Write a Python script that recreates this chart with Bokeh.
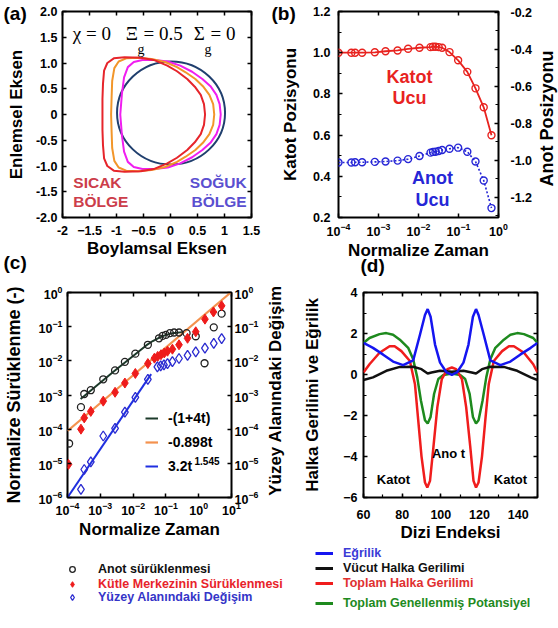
import math
from bokeh.plotting import figure
from bokeh.models import (Range1d, LinearAxis, LogAxis, Label, Legend, LegendItem,
                          FixedTicker, SingleIntervalTicker, PrintfTickFormatter)
from bokeh.layouts import row, column
from bokeh.embed import file_html
from bokeh.resources import INLINE

SANS = "Liberation Sans"
SERIF = "Liberation Serif"
TICK_FS = "12.5px"
AXIS_FS = "17px"
NAN = float("nan")

# ---------------- (a) drop outlines ----------------
red_x = [0.64, 0.62, 0.56, 0.45, 0.31, 0.12, -0.06, -0.31, -0.55, -0.85, -1.05, -1.17, -1.23, -1.25, -1.26, -1.26,
         -1.26, -1.25, -1.23, -1.17, -1.05, -0.85, -0.55, -0.31, -0.06, 0.12, 0.31, 0.45, 0.56, 0.62, 0.64]
red_y = [0.00, 0.20, 0.38, 0.54, 0.69, 0.84, 0.95, 1.06, 1.10, 1.11, 1.09, 1.00, 0.85, 0.60, 0.30, 0.00,
         -0.30, -0.60, -0.85, -1.00, -1.09, -1.11, -1.10, -1.06, -0.95, -0.84, -0.69, -0.54, -0.38, -0.20, 0.00]
orange_x = [0.81, 0.79, 0.72, 0.60, 0.46, 0.28, 0.12, -0.10, -0.35, -0.60, -0.82, -0.96, -1.04, -1.08, -1.09, -1.10,
            -1.09, -1.08, -1.04, -0.96, -0.82, -0.60, -0.35, -0.10, 0.12, 0.28, 0.46, 0.60, 0.72, 0.79, 0.81]
orange_y = [0.00, 0.20, 0.38, 0.55, 0.69, 0.82, 0.92, 1.02, 1.08, 1.10, 1.09, 1.03, 0.90, 0.65, 0.35, 0.00,
            -0.35, -0.65, -0.90, -1.03, -1.09, -1.10, -1.08, -1.02, -0.92, -0.82, -0.69, -0.55, -0.38, -0.20, 0.00]
magenta_x = [0.93, 0.91, 0.85, 0.74, 0.59, 0.40, 0.18, -0.05, -0.30, -0.52, -0.68, -0.79, -0.86, -0.90, -0.93,
             -0.90, -0.86, -0.79, -0.68, -0.52, -0.30, -0.05, 0.18, 0.40, 0.59, 0.74, 0.85, 0.91, 0.93]
magenta_y = [0.00, 0.20, 0.38, 0.55, 0.69, 0.83, 0.95, 1.03, 1.06, 1.06, 1.02, 0.92, 0.72, 0.40, 0.00,
             -0.40, -0.72, -0.92, -1.02, -1.06, -1.06, -1.03, -0.95, -0.83, -0.69, -0.55, -0.38, -0.20, 0.00]
# cold (initial) outline: a circle
circle_cx = [0.01]
circle_cy = [0.03]
circle_w = [2.0]
circle_h = [2.0]
a_xticks = [-2, -1.5, -1, -0.5, 0, 0.5, 1, 1.5]
a_yticks = [-2, -1.5, -1, -0.5, 0, 0.5, 1, 1.5, 2]

# ---------------- (b) tip positions ----------------
t_tip = [1.0e-4, 2.1e-4, 2.6e-4, 3.9e-4, 8.1e-4, 1.5e-3, 3.0e-3, 5.5e-3, 1.06e-2, 2.0e-2,
         2.3e-2, 2.66e-2, 3.2e-2, 3.9e-2, 5.96e-2, 9.8e-2, 0.166, 0.266, 0.427, 0.668]
cathode_pos = [1.000, 1.000, 1.000, 1.000, 1.002, 1.007, 1.011, 1.019, 1.024, 1.027,
               1.029, 1.029, 1.027, 1.024, 1.003, 0.963, 0.907, 0.827, 0.735, 0.599]
anode_pos = [-1.012, -1.012, -1.011, -1.011, -1.009, -1.007, -1.002, -0.994, -0.977, -0.959,
             -0.955, -0.954, -0.950, -0.945, -0.938, -0.932, -0.954, -1.007, -1.110, -1.259]
decades_b = [1e-4, 1e-3, 1e-2, 1e-1, 1.0]
b_left_ticks = [0.2, 0.4, 0.6, 0.8, 1.0, 1.2]
b_left_minor = [0.3, 0.5, 0.7, 0.9, 1.1]
b_right_ticks = [-1.2, -1.0, -0.8, -0.6, -0.4, -0.2]
b_right_minor = [-1.3, -1.1, -0.9, -0.7, -0.5, -0.3]

# ---------------- (c) drift and area change ----------------
t_anode = [1.12e-4, 2.57e-4, 3.24e-4, 5.13e-4, 1.23e-3, 2.82e-3, 5.62e-3, 1.17e-2, 2.82e-2, 6.17e-2,
           7.94e-2, 1.0e-1, 1.32e-1, 1.78e-1, 2.51e-1, 4.27e-1, 8.13e-1, 1.51, 2.88, 5.01]
anode_drift = [3.8e-5, 4.4e-4, 1.07e-3, 1.38e-3, 2.88e-3, 5.25e-3, 9.33e-3, 1.62e-2, 2.95e-2, 4.57e-2,
               5.37e-2, 5.75e-2, 6.46e-2, 6.76e-2, 6.76e-2, 6.46e-2, 5.25e-2, 8.5e-3, 9.55e-2, 2.4e-1]
t_com = [1.07e-4, 2.57e-4, 3.24e-4, 5.13e-4, 1.23e-3, 2.82e-3, 5.62e-3, 1.17e-2, 2.82e-2, 4.47e-2,
         5.62e-2, 7.08e-2, 8.91e-2, 1.12e-1, 1.58e-1, 2.51e-1, 4.57e-1, 8.13e-1, 1.55, 2.82, 5.01]
com_drift = [9.3e-6, 1.0e-4, 2.14e-4, 3.31e-4, 6.61e-4, 1.2e-3, 2.24e-3, 4.27e-3, 8.32e-3, 1.2e-2,
             1.35e-2, 1.51e-2, 1.7e-2, 1.91e-2, 2.19e-2, 2.95e-2, 4.57e-2, 7.08e-2, 1.66e-1, 2.69e-1, 4.07e-1]
t_area = [2.57e-4, 3.24e-4, 5.13e-4, 1.23e-3, 2.82e-3, 5.62e-3, 1.17e-2, 2.82e-2, 5.5e-2, 6.92e-2,
          8.71e-2, 1.12e-1, 1.58e-1, 2.51e-1, 4.57e-1, 8.13e-1, 1.55, 2.88, 5.01]
area_change = [1.74e-6, 6.6e-6, 1.1e-5, 6.31e-5, 1.05e-4, 3.16e-4, 8.51e-4, 2.88e-3, 6.61e-3, 7.08e-3,
               7.59e-3, 8.32e-3, 9.55e-3, 1.17e-2, 1.45e-2, 1.82e-2, 2.34e-2, 3.24e-2, 4.47e-2]
fit_anode_t = [2.51e-4, 2.51e-3, 2.51e-2, 3.98e-2, 6.31e-2, 1.0e-1, 1.58e-1, 3.16e-1]
fit_anode_y = [7.59e-4, 4.79e-3, 2.82e-2, 3.8e-2, 4.79e-2, 5.75e-2, 6.46e-2, 6.92e-2]
fit_com_t = [1.0e-4, 9.5]
fit_com_y = [8.9e-5, 1.0]
fit_area_t = [1.0e-4, 3.55e-2]
fit_area_y = [1.0e-6, 4.07e-3]
decades_cx = [1e-4, 1e-3, 1e-2, 1e-1, 1.0, 10.0]
decades_cy = [1e-6, 1e-5, 1e-4, 1e-3, 1e-2, 1e-1, 1.0]

# ---------------- (d) hoop stress and curvature along the contour ----------------
idx_curv = [60, 64.9, 70, 75.3, 80.5, 85.7, 89.2, 91.8, 93.2, 94.7, 97, 99.6, 103, 105.7, 108.3,
            111.7, 114.3, 116.6, 118.2, 119.5, 122.2, 125.6, 130.8, 136, 141.2, 146.5, 150]
curvature = [1.54, 1.30, 0.98, 0.63, 0.46, 0.69, 1.94, 2.90, 3.19, 2.82, 1.46, 0.58, 0.10, -0.02, 0.10,
             0.58, 1.46, 2.82, 3.19, 2.90, 1.94, 0.69, 0.46, 0.63, 0.98, 1.30, 1.54]
idx_total = [60, 63.1, 68.3, 73.5, 76.1, 79.6, 84, 86.6, 88.3, 90, 91.8, 93, 94.4, 96.2, 98.2, 100.5,
             103.4, 105.7, 107.9, 110.9, 113.1, 115.2, 116.9, 118.2, 119.5, 121.3, 123, 124.8, 127.4,
             131.7, 135.2, 137.8, 143, 147.8, 150]
total_hoop = [0.10, 0.50, 1.06, 1.38, 1.38, 1.14, 0.66, -0.46, -2.23, -3.99, -5.27, -5.51, -5.19, -3.51,
              -1.59, -0.22, 0.26, 0.34, 0.26, -0.22, -1.59, -3.51, -5.19, -5.51, -5.27, -3.99, -2.23,
              -0.46, 0.66, 1.14, 1.38, 1.38, 1.06, 0.50, 0.10]
idx_pot = [60, 63.1, 68.3, 71.8, 75.3, 78.8, 83.1, 85.7, 87.8, 89.7, 91.8, 93.2, 94.7, 96.5, 98.7,
           101.3, 105.7, 110, 112.6, 114.9, 116.6, 118.2, 119.5, 121.6, 123.5, 125.6, 128.2, 132.6,
           136, 139.5, 143, 147.8, 150]
potential = [1.54, 1.78, 1.97, 2.02, 1.94, 1.70, 1.30, 0.74, -0.14, -1.27, -2.23, -2.39, -2.07, -0.95,
             -0.22, -0.02, 0.05, -0.02, -0.22, -0.95, -2.07, -2.39, -2.23, -1.27, -0.14, 0.74, 1.30,
             1.70, 1.94, 2.02, 1.97, 1.78, 1.54]
idx_body = [60, 64.9, 71.8, 78.8, 85.7, 90, 93.2, 95.2, 99.6, 105.7, 111.7, 116, 118.2, 121.3, 125.6,
            132.6, 139.5, 146.5, 150]
body_hoop = [-0.27, -0.14, 0.18, 0.37, 0.38, 0.26, 0.05, 0.10, 0.18, 0.14, 0.18, 0.10, 0.05, 0.26,
             0.38, 0.37, 0.18, -0.14, -0.27]

PAGE_W, PAGE_H = 558, 628


def base_fig(width, height, x_range, y_range, borders, x_log=False, y_log=False):
    left, right, top, bottom = borders
    p = figure(width=width, height=height, x_range=x_range, y_range=y_range,
               x_axis_type="log" if x_log else "linear",
               y_axis_type="log" if y_log else "linear",
               output_backend="svg", toolbar_location=None,
               min_border_left=left, min_border_right=right,
               min_border_top=top, min_border_bottom=bottom)
    p.xgrid.visible = False
    p.ygrid.visible = False
    p.outline_line_color = "black"
    p.outline_line_width = 2
    p.background_fill_color = "white"
    p.border_fill_color = "white"
    return p


def style_axis(ax, standoff, label_standoff, label_size=AXIS_FS):
    ax.axis_line_color = None
    ax.major_tick_in = 4
    ax.major_tick_out = 0
    ax.minor_tick_in = 3
    ax.minor_tick_out = 0
    ax.major_tick_line_width = 1.5
    ax.minor_tick_line_width = 1.2
    ax.major_label_text_font = SANS
    ax.major_label_text_font_style = "bold"
    ax.major_label_text_font_size = TICK_FS
    ax.major_label_text_color = "black"
    ax.axis_label_text_font = SANS
    ax.axis_label_text_font_style = "bold"
    ax.axis_label_text_font_size = label_size
    ax.axis_label_text_color = "black"
    ax.major_label_standoff = standoff
    ax.axis_label_standoff = label_standoff


def frame_ticks(p, side, ticker, log=False, **kw):
    cls = LogAxis if log else LinearAxis
    ax = cls(ticker=ticker, **kw)
    style_axis(ax, 0, 0)
    ax.major_label_text_font_size = "1px"
    ax.major_label_text_color = None
    if log:
        ax.minor_tick_line_color = None
    p.add_layout(ax, side)
    return ax


def text_at(p, x, y, text, color, size, align="center", font=SANS, style="bold", angle=0.0):
    p.add_layout(Label(x=x, y=y, text=text, text_color=color, text_font=font,
                       text_font_style=style, text_font_size=size, text_align=align,
                       text_baseline="middle", angle=angle))


# ================= (a) =================
pa = base_fig(270, 275, Range1d(-2, 1.5), Range1d(-2, 2), (62, 19, 11, 58))
ax = pa.below[0]
style_axis(ax, 8, 1)
ax.ticker = FixedTicker(ticks=a_xticks)
ax.major_label_overrides = {-2: "-2", -1: "-1", 0: "0", 1: "1"}
ax.axis_label = "Boylamsal Eksen"
ay = pa.left[0]
style_axis(ay, 5, 7)
ay.ticker = FixedTicker(ticks=a_yticks)
ay.formatter = PrintfTickFormatter(format="%.1f")
ay.major_label_overrides = {0: "0"}
ay.axis_label = "Enlemsel Eksen"
frame_ticks(pa, "above", FixedTicker(ticks=a_xticks))
frame_ticks(pa, "right", FixedTicker(ticks=a_yticks))

pa.ellipse(x=circle_cx, y=circle_cy, width=circle_w, height=circle_h,
           fill_color=None, line_color="#203f6e", line_width=2)
pa.line(magenta_x, magenta_y, line_color="#f01ef0", line_width=2, line_join="round")
pa.line(orange_x, orange_y, line_color="#f2962a", line_width=2, line_join="round")
pa.line(red_x, red_y, line_color="#e6252b", line_width=2, line_join="round")

text_at(pa, -1.81, 1.58, "χ = 0", "black", "19px", align="left", font=SERIF, style="normal")
text_at(pa, -0.83, 1.58, "Ξ", "black", "19px", align="left", font=SERIF, style="normal")
text_at(pa, -0.61, 1.27, "g", "black", "14px", align="left", font=SERIF, style="normal")
text_at(pa, -0.50, 1.58, "= 0.5", "black", "19px", align="left", font=SERIF, style="normal")
text_at(pa, 0.43, 1.58, "Σ", "black", "19px", align="left", font=SERIF, style="normal")
text_at(pa, 0.63, 1.27, "g", "black", "14px", align="left", font=SERIF, style="normal")
text_at(pa, 0.74, 1.58, "= 0", "black", "19px", align="left", font=SERIF, style="normal")
text_at(pa, -1.80, -1.33, "SICAK", "#cc3d4a", "15.5px", align="left")
text_at(pa, -1.80, -1.69, "BÖLGE", "#cc3d4a", "15.5px", align="left")
text_at(pa, 1.41, -1.33, "SOĞUK", "#5a4fd0", "15.5px", align="right")
text_at(pa, 1.41, -1.69, "BÖLGE", "#5a4fd0", "15.5px", align="right")

# ================= (b) =================
pb = base_fig(288, 275, Range1d(1e-4, 1), Range1d(0.2, 1.2), (68, 60, 9, 57), x_log=True)
pb.extra_y_ranges = {"anot": Range1d(-1.31, -0.195)}
bx = pb.below[0]
style_axis(bx, 5, 2)
bx.ticker = FixedTicker(ticks=decades_b)
bx.minor_tick_line_color = None
bx.axis_label = "Normalize Zaman"
by = pb.left[0]
style_axis(by, 8, 10)
by.ticker = FixedTicker(ticks=b_left_ticks, minor_ticks=b_left_minor)
by.formatter = PrintfTickFormatter(format="%.1f")
by.axis_label = "Katot Pozisyonu"
br = LinearAxis(y_range_name="anot",
                ticker=FixedTicker(ticks=b_right_ticks, minor_ticks=b_right_minor))
style_axis(br, 12, 3)
br.formatter = PrintfTickFormatter(format="%.1f")
pb.add_layout(br, "right")
frame_ticks(pb, "above", FixedTicker(ticks=decades_b), log=True)

pb.line(t_tip, cathode_pos, line_color="#e8231f", line_width=1.8)
pb.scatter(t_tip, cathode_pos, marker="circle", size=7, fill_color=None,
           line_color="#e8231f", line_width=1.4)
pb.line(t_tip, anode_pos, y_range_name="anot", line_color="#2626d6", line_width=1.6,
        line_dash="2 2")
pb.scatter(t_tip, anode_pos, y_range_name="anot", marker="circle", size=7, fill_color=None,
           line_color="#2626d6", line_width=1.4)

text_at(pb, 5.96e-3, 0.883, "Katot", "#e8231f", "18px")
text_at(pb, 5.96e-3, 0.778, "Ucu", "#e8231f", "18px")
text_at(pb, 2.24e-2, 0.394, "Anot", "#2626d6", "18px")
text_at(pb, 2.24e-2, 0.284, "Ucu", "#2626d6", "18px")

# ================= (c) =================
pc = base_fig(286, 353, Range1d(1e-4, 10), Range1d(1e-6, 1), (67, 55, 15, 130),
              x_log=True, y_log=True)
cx = pc.below[0]
style_axis(cx, 4, 2)
cx.ticker = FixedTicker(ticks=decades_cx)
cx.minor_tick_line_color = None
cx.axis_label = "Normalize Zaman"
cy = pc.left[0]
style_axis(cy, 5, 12, label_size="18px")
cy.ticker = FixedTicker(ticks=decades_cy)
cy.minor_tick_line_color = None
cy.axis_label = "Normalize Sürüklenme (-)"
cr = LogAxis(ticker=FixedTicker(ticks=decades_cy))
style_axis(cr, 3, 8)
cr.minor_tick_line_color = None
pc.add_layout(cr, "right")
frame_ticks(pc, "above", FixedTicker(ticks=decades_cx), log=True)

fit_a = pc.line(fit_anode_t, fit_anode_y, line_color="#1c3a2a", line_width=2)
fit_c = pc.line(fit_com_t, fit_com_y, line_color="#f4924e", line_width=2.2)
fit_s = pc.line(fit_area_t, fit_area_y, line_color="#1f2fe0", line_width=2)
pc.scatter(t_anode, anode_drift, marker="circle", size=7, fill_color=None,
           line_color="#222222", line_width=1.3)
pc.scatter(t_com, com_drift, marker="diamond", size=10, fill_color="#ee1c1c",
           line_color="#ee1c1c")
pc.scatter(t_area, area_change, marker="diamond", size=10, fill_color=None,
           line_color="#2b2bd0", line_width=1.3)

fit_legend = Legend(items=[LegendItem(label="-(1+4t)", renderers=[fit_a]),
                           LegendItem(label="-0.898t", renderers=[fit_c]),
                           LegendItem(label="3.2t", renderers=[fit_s])],
                    location=(78, 23), padding=0, margin=0, spacing=8,
                    glyph_width=13, glyph_height=14, label_height=14, label_standoff=10,
                    border_line_color=None, background_fill_alpha=0,
                    label_text_font=SANS, label_text_font_style="bold",
                    label_text_font_size="14px", label_text_color="black")
pc.add_layout(fit_legend)
pc.add_layout(Label(x=127, y=37, x_units="screen", y_units="screen", text="1.545",
                    text_font=SANS, text_font_style="bold", text_font_size="10px",
                    text_baseline="middle", text_color="black"))

# ================= (d) =================
pd = base_fig(272, 353, Range1d(60, 150), Range1d(-6, 4), (77, 21, 17, 131))
dx = pd.below[0]
style_axis(dx, 12, 1)
dx.ticker = SingleIntervalTicker(interval=20, num_minor_ticks=2)
dx.axis_label = "Dizi Endeksi"
dy = pd.left[0]
style_axis(dy, 6, 18)
dy.ticker = SingleIntervalTicker(interval=2, num_minor_ticks=2)
dy.axis_label = "Halka Gerilimi ve Eğrilik"
frame_ticks(pd, "above", SingleIntervalTicker(interval=20, num_minor_ticks=2))
frame_ticks(pd, "right", SingleIntervalTicker(interval=2, num_minor_ticks=2))

pd.line(idx_pot, potential, line_color="#1e8a1e", line_width=2.5)
pd.line(idx_total, total_hoop, line_color="#f01d1d", line_width=2.5)
pd.line(idx_body, body_hoop, line_color="#111111", line_width=2.5)
pd.line(idx_curv, curvature, line_color="#1515f0", line_width=2.5)

text_at(pd, 75.5, -5.1, "Katot", "black", "13px")
text_at(pd, 136, -5.1, "Katot", "black", "13px")
text_at(pd, 104, -3.85, "Ano t", "black", "13px")

# ====== transparent page layer: panel tags, right-hand titles, bottom keys ======
ov = figure(width=PAGE_W, height=PAGE_H, x_range=Range1d(0, PAGE_W), y_range=Range1d(PAGE_H, 0),
            x_axis_location=None, y_axis_location=None, output_backend="svg",
            toolbar_location=None, min_border=0)
ov.xgrid.visible = False
ov.ygrid.visible = False
ov.outline_line_color = None
ov.background_fill_color = None
ov.border_fill_color = None
ov.margin = (-PAGE_H, 0, 0, 0)

for tag, tx, ty in [("(a)", 3, 13), ("(b)", 271, 13), ("(c)", 3, 262), ("(d)", 360, 264.5)]:
    text_at(ov, tx, ty, tag, "black", "19px", align="left")
text_at(ov, 546, 118, "Anot Posizyonu", "black", "18px", angle=math.pi / 2)
text_at(ov, 275, 390, "Yüzey Alanındaki Değişim", "black", "17px", angle=math.pi / 2)

# style-only renderers for the bottom keys (NaN positions: nothing is plotted)
k_anode = ov.scatter(x=[NAN], y=[NAN], marker="circle", size=7, fill_color=None,
                     line_color="#222222", line_width=1.3)
k_com = ov.scatter(x=[NAN], y=[NAN], marker="diamond", size=10, fill_color="#ee1c1c",
                   line_color="#ee1c1c")
k_area = ov.scatter(x=[NAN], y=[NAN], marker="diamond", size=10, fill_color=None,
                    line_color="#2b2bd0", line_width=1.3)
k_curv = ov.line(x=[NAN, NAN], y=[NAN, NAN], line_color="#1515f0", line_width=3)
k_body = ov.line(x=[NAN, NAN], y=[NAN, NAN], line_color="#111111", line_width=3)
k_total = ov.line(x=[NAN, NAN], y=[NAN, NAN], line_color="#f01d1d", line_width=3)
k_pot = ov.line(x=[NAN, NAN], y=[NAN, NAN], line_color="#1e8a1e", line_width=3)


def key_legend(renderer, label, color, left, bottom, glyph_w, standoff):
    lg = Legend(items=[LegendItem(label=label, renderers=[renderer])],
                location=(left, PAGE_H - bottom), padding=0, margin=0, spacing=0,
                glyph_width=glyph_w, glyph_height=14, label_height=14, label_width=10,
                label_standoff=standoff, border_line_color=None, background_fill_alpha=0,
                label_text_font=SANS, label_text_font_style="bold", label_text_font_size="12.5px",
                label_text_color=color)
    ov.add_layout(lg)


key_legend(k_anode, "Anot sürüklenmesi", "#111111", 64, 576, 16, 18)
key_legend(k_com, "Kütle Merkezinin Sürüklenmesi", "#e8232a", 64, 591, 16, 18)
key_legend(k_area, "Yüzey Alanındaki Değişim", "#3535c8", 64, 604, 16, 18)
key_legend(k_curv, "Eğrilik", "#3b3bd6", 315, 560, 18, 10)
key_legend(k_body, "Vücut Halka Gerilimi", "#111111", 315, 575, 18, 10)
key_legend(k_total, "Toplam Halka Gerilimi", "#e03030", 315, 590, 18, 10)
key_legend(k_pot, "Toplam Genellenmiş Potansiyel", "#1e8a1e", 315, 610, 18, 10)

layout = column(row(pa, pb), row(pc, pd), ov)
open("out.html", "w").write(file_html(layout, INLINE, title="Panels"))
